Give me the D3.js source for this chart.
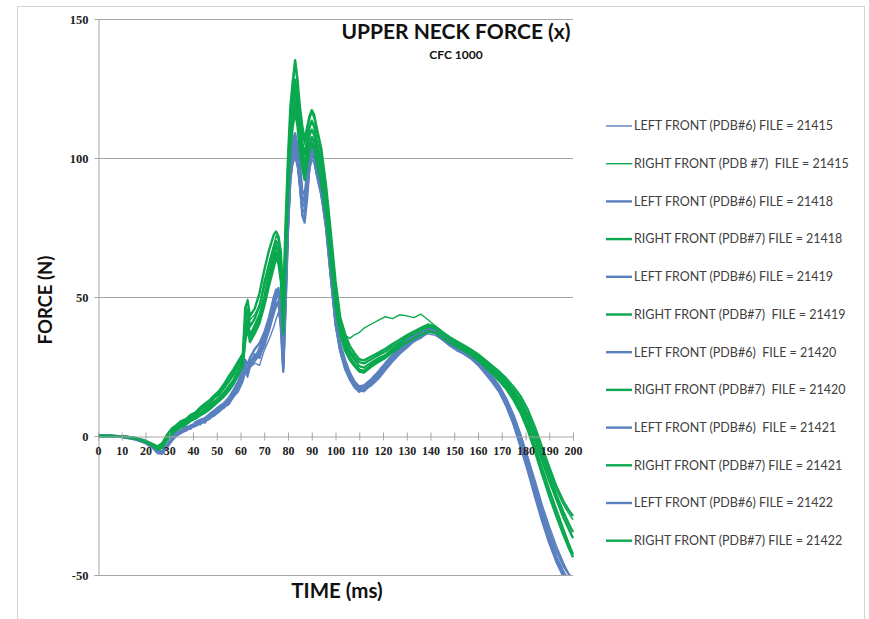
<!DOCTYPE html>
<html>
<head>
<meta charset="utf-8">
<script src="https://cdn.jsdelivr.net/npm/d3@7"></script>
<style>
  body { margin: 0; background: #fff; }
  text { font-family: Lato, "Open Sans", sans-serif; }
  .tick text { font-family: "Liberation Serif", "DejaVu Serif", serif; font-weight: bold; }
</style>
</head>
<body>
<div id="chart"></div>
<script>
// time base (ms) shared by all channels
const times = [0, 5, 10, 15, 20, 23, 25, 27, 29,
  31, 33, 35, 37, 39, 41, 43, 45, 47, 49, 51, 53, 55, 57, 59, 61, 62, 63, 64, 66, 68, 70, 72, 74, 75, 76, 77, 78,
  79, 80, 81, 82, 83, 84, 85, 86, 87, 88, 89, 90, 91, 92, 94, 96, 98, 100,
  102, 104, 106, 108, 110, 112, 115, 118, 121, 124, 127, 130, 133, 136, 139, 142, 145, 148, 151, 154,
  157, 160, 163, 166, 169, 172, 175, 178, 181, 184, 187, 190, 193, 196, 198, 200];

const xTicks = [0, 10, 20, 30, 40, 50, 60, 70, 80, 90, 100, 110, 120, 130, 140, 150, 160, 170, 180, 190, 200];
const yTicks = [-50, 0, 50, 100, 150];

const lf21415 = [0, 0, -0.3, -0.9, -2.4, -3.9, -5.4, -5.8, -3.6,
  -1.2, 0.6, 1.4, 2.9, 2.4, 4.1, 5.3, 4.6, 6.8, 7.9, 8.6, 10.4, 11.2, 13.9, 15.8, 19.4, 22.8, 21.1, 24.6, 26.2, 25.4, 30.8, 34.6, 39.2, 42.1, 44.6, 40.3, 27.5,
  48.6, 72.4, 90.8, 97.6, 100.2, 96.4, 88.5, 80.2, 78.4, 86.9, 95.1, 99.4, 98.1, 93.6, 86.2, 74.5, 56.8, 39.6,
  30.2, 24.6, 21.4, 18.8, 17.1, 16.6, 19.2, 21.4, 24.6, 27.8, 30.1, 32.4, 33.9, 35.6, 36.8, 36.2, 34.6, 32.9, 31.4, 30.2,
  28.6, 26.4, 23.5, 20.8, 17.2, 12.4, 6.8, 0.2, -7.6, -15.8, -24.6, -32.4, -39.5, -45.6, -49.2, -52.4];
const rf21415 = [0, 0, -0.2, -0.5, -1.7, -2.8, -3.6, -2.4, 0.2,
  2.1, 3.4, 4.6, 5.2, 6.8, 7.6, 9.1, 10.4, 11.2, 13.6, 14.8, 16.9, 19.2, 21.6, 24.8, 28.2, 44.6, 49.2, 41.8, 43.6, 47.2, 55.8, 62.4, 68.6, 72.1, 70.4, 64.6, 46.2,
  74.6, 98.4, 115.2, 124.8, 133.6, 126.4, 116.2, 109.4, 104.8, 109.2, 113.6, 116.4, 114.2, 109.8, 101.6, 88.4, 71.2, 53.6,
  41.4, 36.2, 35.1, 36.4, 37.2, 38.8, 40.2, 41.6, 42.9, 42.2, 43.6, 43.2, 42.6, 43.8, 41.8, 39.6, 37.2, 35.1, 33.6, 32.1,
  30.6, 28.9, 26.8, 24.6, 22.4, 19.8, 16.6, 12.8, 7.9, 1.6, -5.8, -12.6, -19.4, -24.8, -27.6, -30.2];
const lf21418 = [0, 0.1, -0.3, -1.0, -2.6, -4.2, -6.1, -6.4, -4.1,
  -1.8, 0.2, 1.1, 2.4, 3.2, 3.8, 4.9, 5.6, 6.2, 8.1, 9.4, 10.1, 12.6, 14.2, 17.3, 21.2, 24.6, 23.2, 26.8, 28.4, 30.6, 34.2, 40.8, 47.6, 51.8, 53.2, 44.1, 24.2,
  52.4, 78.6, 96.2, 104.5, 107.6, 103.8, 96.1, 86.4, 84.2, 91.6, 99.8, 104.2, 102.6, 98.1, 89.4, 77.6, 59.4, 41.2,
  31.6, 25.8, 21.6, 18.2, 16.4, 16.1, 18.6, 21.2, 24.1, 27.2, 29.8, 32.6, 34.4, 36.2, 38.4, 37.6, 35.1, 33.4, 31.8, 30.1,
  28.2, 25.9, 23.1, 20.2, 16.4, 11.2, 4.6, -3.2, -11.4, -20.6, -29.4, -37.2, -44.1, -49.8, -53.1, -56.0];
const rf21418 = [0, 0, -0.1, -0.6, -1.9, -3.2, -4.4, -3.6, -0.8,
  1.4, 2.8, 4.2, 4.9, 6.1, 7.4, 8.2, 9.6, 10.8, 12.4, 13.9, 15.6, 17.8, 20.1, 23.4, 27.2, 38.6, 42.4, 36.1, 39.8, 43.6, 50.2, 58.4, 65.2, 68.4, 66.2, 60.4, 40.6,
  68.2, 92.6, 110.6, 118.2, 124.6, 117.8, 108.6, 102.4, 97.6, 102.8, 108.1, 110.2, 108.4, 103.6, 96.1, 84.2, 67.6, 50.2,
  39.1, 33.4, 29.6, 27.4, 25.1, 24.6, 26.4, 27.9, 29.1, 31.2, 32.8, 34.6, 35.9, 37.1, 38.4, 37.9, 36.1, 34.2, 32.6, 31.4,
  29.8, 28.1, 26.1, 23.6, 21.2, 18.6, 15.1, 11.2, 5.6, -1.4, -8.9, -16.2, -22.8, -29.4, -33.1, -36.8];
const lf21419 = [0, 0, -0.4, -1.1, -2.2, -3.6, -5.6, -6.2, -3.9,
  -0.9, 0.9, 1.6, 2.1, 3.6, 4.4, 4.2, 6.1, 7.2, 7.6, 9.9, 11.5, 12.1, 15.1, 18.2, 22.6, 25.8, 22.4, 25.6, 29.4, 28.1, 33.6, 37.9, 44.8, 47.2, 48.4, 38.6, 23.1,
  46.8, 74.2, 93.4, 101.2, 103.4, 99.8, 91.6, 79.4, 76.8, 85.2, 96.4, 101.8, 100.2, 95.4, 87.6, 75.1, 57.2, 40.8,
  30.8, 24.2, 20.4, 17.6, 15.9, 16.8, 18.2, 20.6, 23.8, 26.9, 29.6, 31.8, 34.1, 35.4, 37.6, 37.1, 34.8, 32.6, 30.9, 29.6,
  27.9, 25.6, 22.6, 19.4, 15.8, 10.6, 4.1, -4.1, -12.6, -21.8, -30.6, -38.4, -45.2, -50.6, -54.2, -57.5];
const rf21419 = [0, 0, -0.3, -0.8, -2.1, -3.4, -4.8, -4.1, -1.2,
  1.0, 2.4, 3.6, 4.4, 5.8, 6.6, 7.9, 8.8, 10.2, 11.6, 13.2, 14.8, 16.9, 19.4, 22.6, 26.1, 36.4, 40.8, 35.2, 38.4, 42.1, 48.6, 56.2, 62.8, 66.2, 63.8, 58.2, 38.4,
  64.8, 89.4, 107.2, 114.6, 120.4, 114.2, 105.1, 99.2, 94.6, 99.8, 104.6, 107.6, 105.6, 100.8, 93.2, 81.6, 64.8, 48.1,
  37.6, 31.8, 28.2, 25.9, 23.9, 23.4, 25.6, 27.2, 28.6, 30.6, 32.4, 34.1, 35.6, 36.9, 38.1, 37.6, 35.8, 33.9, 32.4, 31.1,
  29.4, 27.6, 25.4, 22.9, 20.4, 17.6, 13.9, 9.6, 3.6, -3.8, -11.6, -19.4, -26.6, -33.8, -38.4, -42.6];
const lf21420 = [0, 0, -0.2, -0.8, -2.0, -3.4, -5.1, -5.6, -3.2,
  -0.6, 1.2, 2.1, 3.4, 3.1, 4.9, 5.8, 6.4, 7.9, 9.2, 10.6, 11.8, 13.6, 16.4, 19.6, 23.8, 27.4, 25.6, 28.1, 31.2, 33.4, 37.2, 42.6, 49.8, 52.6, 50.4, 42.8, 29.6,
  55.8, 81.2, 98.4, 106.8, 108.9, 104.2, 97.6, 88.2, 86.9, 93.8, 101.2, 105.6, 103.4, 99.2, 91.4, 79.8, 61.6, 43.8,
  33.2, 27.4, 22.8, 19.6, 17.8, 18.2, 20.4, 23.1, 26.2, 29.1, 31.8, 34.1, 36.2, 37.9, 39.2, 38.1, 35.8, 34.1, 32.2, 30.6,
  28.9, 26.8, 24.1, 21.4, 17.9, 13.2, 7.4, 0.1, -8.2, -17.4, -26.2, -34.1, -41.2, -46.8, -49.4, -51.8];
const rf21420 = [0, 0, -0.2, -0.6, -1.7, -2.9, -3.9, -2.8, 0.4,
  2.6, 3.9, 5.4, 6.1, 7.6, 8.4, 10.2, 11.6, 12.9, 14.6, 16.2, 18.6, 21.4, 23.9, 26.8, 29.6, 46.2, 48.6, 43.2, 45.8, 51.4, 59.6, 66.8, 72.4, 73.6, 71.8, 66.2, 47.8,
  76.8, 100.2, 118.4, 127.6, 135.2, 128.1, 118.4, 111.6, 106.4, 110.8, 114.9, 117.2, 115.6, 111.2, 103.4, 90.2, 73.4, 55.8,
  42.6, 36.8, 32.4, 29.8, 27.6, 27.2, 28.6, 29.9, 31.4, 33.1, 34.6, 36.2, 37.6, 38.9, 40.1, 39.4, 37.4, 35.6, 34.1, 32.6,
  31.1, 29.4, 27.4, 25.2, 23.1, 20.6, 17.6, 14.2, 9.4, 3.2, -4.1, -11.2, -18.1, -23.6, -26.4, -28.8];
const lf21421 = [0, 0, -0.3, -0.7, -1.9, -3.5, -5.2, -5.9, -3.5,
  -1.0, 0.4, 1.8, 2.6, 3.8, 4.1, 5.6, 5.9, 7.4, 8.6, 9.2, 11.2, 12.9, 15.6, 18.8, 22.1, 24.2, 23.8, 27.2, 27.8, 31.6, 35.8, 41.2, 46.2, 49.6, 51.4, 45.6, 26.8,
  50.2, 76.4, 94.8, 102.8, 105.2, 101.6, 93.8, 84.1, 82.4, 89.6, 97.6, 102.6, 101.4, 96.8, 88.8, 76.9, 58.6, 42.4,
  31.9, 25.4, 21.2, 18.4, 17.2, 17.4, 19.6, 22.4, 25.4, 28.4, 31.2, 33.4, 35.2, 36.8, 38.1, 37.4, 35.4, 33.6, 31.9, 30.4,
  28.4, 26.2, 23.4, 20.6, 17.1, 12.1, 5.9, -1.8, -10.1, -19.2, -28.1, -36.2, -43.4, -48.9, -51.8, -54.6];
const rf21421 = [0, 0.1, -0.2, -0.5, -1.8, -3.1, -4.2, -3.3, -0.4,
  1.8, 3.1, 4.8, 5.6, 6.9, 7.9, 9.4, 10.8, 11.9, 13.8, 15.2, 17.4, 19.9, 22.6, 25.6, 28.8, 41.8, 45.6, 39.4, 42.2, 46.8, 54.2, 61.4, 67.8, 70.2, 68.4, 62.4, 43.6,
  71.4, 95.8, 113.6, 121.4, 128.2, 121.6, 112.4, 105.8, 101.2, 106.2, 110.8, 113.4, 111.2, 106.6, 98.8, 86.4, 69.8, 52.4,
  40.2, 34.6, 30.8, 28.4, 26.6, 26.1, 27.6, 29.1, 30.4, 32.2, 33.6, 35.4, 36.8, 38.1, 39.4, 38.7, 36.8, 35.1, 33.4, 32.1,
  30.4, 28.7, 26.8, 24.4, 22.1, 19.4, 16.2, 12.6, 7.1, 0.6, -6.8, -14.1, -21.2, -27.4, -31.2, -34.6];
const lf21422 = [0, 0.1, -0.2, -0.6, -2.1, -3.7, -5.6, -6.0, -3.8,
  -1.4, 0.1, 1.3, 1.9, 3.1, 3.6, 4.6, 5.2, 6.6, 7.4, 8.9, 10.4, 11.6, 14.4, 16.9, 20.6, 23.4, 22.6, 25.1, 27.1, 29.2, 32.4, 38.6, 44.2, 46.8, 47.6, 41.2, 25.2,
  49.4, 75.2, 92.6, 99.6, 102.1, 98.6, 90.2, 81.6, 80.4, 87.8, 96.2, 100.8, 99.6, 94.8, 86.9, 75.6, 57.9, 40.2,
  30.4, 24.8, 20.8, 17.9, 16.6, 17.1, 19.1, 21.9, 24.9, 27.9, 30.6, 32.9, 34.8, 36.4, 37.8, 37.1, 35.1, 33.2, 31.6, 30.1,
  28.1, 25.9, 23.2, 20.1, 16.6, 11.6, 5.2, -2.6, -11.1, -20.2, -29.2, -37.4, -44.6, -50.2, -53.2, -55.8];
const rf21422 = [0, 0, -0.3, -0.8, -2.2, -3.6, -4.9, -4.3, -1.5,
  0.6, 2.1, 3.2, 4.1, 5.4, 6.2, 7.4, 8.4, 9.6, 11.1, 12.6, 14.2, 16.2, 18.6, 21.8, 25.4, 34.2, 38.6, 33.8, 36.9, 40.6, 46.8, 54.1, 60.6, 64.2, 61.8, 55.6, 36.8,
  62.4, 86.8, 104.2, 111.2, 116.8, 111.4, 102.2, 96.4, 92.1, 97.4, 102.4, 105.4, 103.6, 98.6, 91.1, 79.6, 62.8, 46.4,
  36.4, 30.8, 27.4, 25.2, 23.2, 22.8, 24.9, 26.6, 28.1, 30.1, 31.9, 33.6, 35.1, 36.4, 37.6, 37.2, 35.4, 33.6, 32.1, 30.8,
  29.1, 27.2, 24.9, 22.4, 19.8, 16.8, 12.9, 8.2, 2.1, -5.6, -13.8, -21.6, -28.9, -35.6, -39.8, -43.6];

const seriesNames = [
  "LEFT FRONT (PDB#6) FILE = 21415",
  "RIGHT FRONT (PDB #7)  FILE = 21415",
  "LEFT FRONT (PDB#6) FILE = 21418",
  "RIGHT FRONT (PDB#7) FILE = 21418",
  "LEFT FRONT (PDB#6) FILE = 21419",
  "RIGHT FRONT (PDB#7)  FILE = 21419",
  "LEFT FRONT (PDB#6)  FILE = 21420",
  "RIGHT FRONT (PDB#7)  FILE = 21420",
  "LEFT FRONT (PDB#6)  FILE = 21421",
  "RIGHT FRONT (PDB#7) FILE = 21421",
  "LEFT FRONT (PDB#6) FILE = 21422",
  "RIGHT FRONT (PDB#7) FILE = 21422"
];
const seriesValues = [lf21415, rf21415, lf21418, rf21418, lf21419, rf21419,
  lf21420, rf21420, lf21421, rf21421, lf21422, rf21422];

const width = 869, height = 619;
const margin = { top: 19, right: 295, bottom: 44, left: 98 };
const blue = "#5b80bf", green = "#0aa84f";

const svg = d3.select("#chart").append("svg")
  .attr("width", width)
  .attr("height", height);

// chart frame
svg.append("rect")
  .attr("x", 17.5).attr("y", 6.5)
  .attr("width", 847).attr("height", 640)
  .attr("fill", "none").attr("stroke", "#d4d4d4");

const x = d3.scaleLinear().domain([0, 200]).range([margin.left, width - margin.right - 1]);
const y = d3.scaleLinear().domain([-50, 150]).range([height - margin.bottom, margin.top]);

// gridlines
svg.append("g")
  .selectAll("line")
  .data(yTicks.filter(d => d !== 0))
  .join("line")
  .attr("x1", x(0)).attr("x2", x(200))
  .attr("y1", d => Math.round(y(d)) + 0.5).attr("y2", d => Math.round(y(d)) + 0.5)
  .attr("stroke", "#a6a6a6");

// y axis
const yAxis = svg.append("g")
  .attr("transform", `translate(${x(0) + 0.5},0)`)
  .call(d3.axisLeft(y).tickValues(yTicks).tickSize(4).tickPadding(6).tickFormat(d => String(d)));
yAxis.select(".domain").attr("stroke", "#a6a6a6");
yAxis.selectAll(".tick line").attr("stroke", "#a6a6a6");
yAxis.selectAll(".tick text").attr("font-size", 12.5).attr("fill", "#222");

// lines
svg.append("clipPath").attr("id", "plot-clip")
  .append("rect")
  .attr("x", x(0)).attr("y", y(150) - 2)
  .attr("width", x(200) - x(0) + 2).attr("height", y(-50) - y(150) + 2);

const line = d3.line()
  .x((d, i) => x(times[i]))
  .y(d => y(d));

svg.append("g")
  .attr("clip-path", "url(#plot-clip)")
  .selectAll("path")
  .data(seriesValues)
  .join("path")
  .attr("d", d => line(d))
  .attr("fill", "none")
  .attr("stroke", (d, i) => (i % 2 === 0 ? blue : green))
  .attr("stroke-width", (d, i) => (i < 2 ? 1.4 : 2.4))
  .attr("stroke-linejoin", "round");

// x axis sits on zero
const xAxis = svg.append("g")
  .attr("transform", `translate(0,${Math.round(y(0)) + 0.5})`)
  .call(d3.axisBottom(x).tickValues(xTicks).tickSize(4).tickFormat(d => String(d)));
xAxis.select(".domain").attr("stroke", "#a6a6a6");
xAxis.selectAll(".tick line").attr("y1", -4).attr("y2", 4).attr("stroke", "#a6a6a6");
xAxis.selectAll(".tick text").attr("font-size", 12).attr("fill", "#222").attr("y", 10);

// titles
svg.append("text")
  .attr("x", 456).attr("y", 39)
  .attr("text-anchor", "middle")
  .attr("font-size", 21).attr("font-weight", "bold").attr("fill", "#111")
  .text("UPPER NECK FORCE (x)");
svg.append("text")
  .attr("x", 456).attr("y", 59)
  .attr("text-anchor", "middle")
  .attr("font-size", 12).attr("font-weight", "bold").attr("fill", "#111")
  .text("CFC 1000");
svg.append("text")
  .attr("transform", "translate(52,300) rotate(-90)")
  .attr("text-anchor", "middle")
  .attr("font-size", 18.5).attr("font-weight", "bold").attr("fill", "#111")
  .text("FORCE (N)");
svg.append("text")
  .attr("x", 337).attr("y", 598)
  .attr("text-anchor", "middle")
  .attr("font-size", 20.5).attr("font-weight", "bold").attr("fill", "#111")
  .text("TIME (ms)");

// legend
const legend = svg.append("g")
  .selectAll("g")
  .data(seriesNames)
  .join("g")
  .attr("transform", (d, i) => `translate(606,${126 + i * 37.7})`);
legend.append("line")
  .attr("x1", 0).attr("x2", 26)
  .attr("stroke", (d, i) => (i % 2 === 0 ? blue : green))
  .attr("stroke-width", (d, i) => (i < 2 ? 1.4 : 2.4));
legend.append("text")
  .attr("x", 28).attr("dy", "0.35em")
  .attr("font-size", 12.5).attr("fill", "#404040")
  .style("white-space", "pre")
  .text(d => d);
</script>
</body>
</html>
